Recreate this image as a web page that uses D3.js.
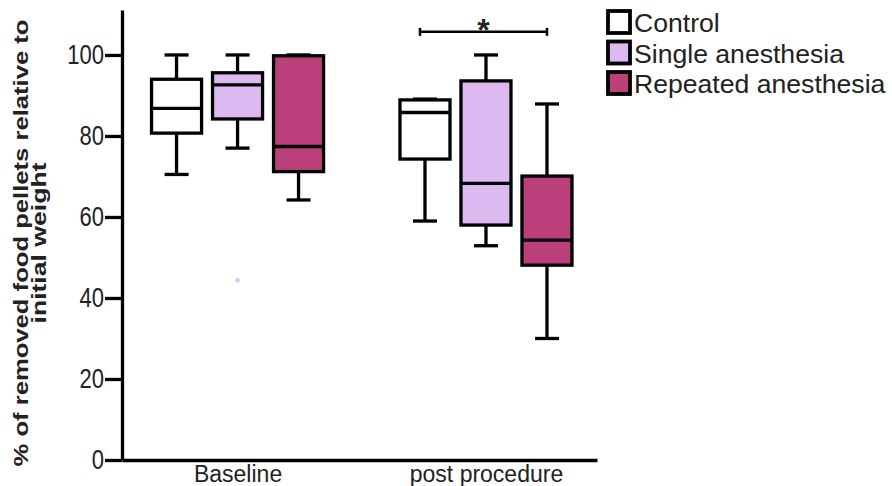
<!DOCTYPE html>
<html>
<head>
<meta charset="utf-8">
<script src="https://cdn.jsdelivr.net/npm/d3@7"></script>
<style>
  body { margin: 0; background: #fff; }
  text { font-family: "Liberation Sans", Arial, sans-serif; fill: #222; }
</style>
</head>
<body>
<div id="container"></div>
<script>
/* CONSTANTS AND GLOBALS */
const width = 892;
const height = 486;

/* DATA */
const groups = ["Baseline", "post procedure"];
const series = ["Control", "Single anesthesia", "Repeated anesthesia"];
const colors = ["#ffffff", "#ddb9f2", "#bb3f7b"];
const yTicks = [0, 20, 40, 60, 80, 100];

// box stats per group, in series order: [min, q1, median, q3, max]
const baselineStats = [
  [70.5, 80.7, 86.8, 94.0, 100],
  [77.0, 84.2, 92.6, 95.6, 100],
  [64.2, 71.2, 77.4, 99.8, 100]
];
const postStats = [
  [59.0, 74.3, 85.8, 88.9, 89.1],
  [52.9, 58.0, 68.3, 93.6, 100],
  [30.0, 48.1, 54.3, 70.1, 87.9]
];
// faint outlier point (single anesthesia, baseline)
const outliers = [{group: "Baseline", series: "Single anesthesia", value: 44.4}];
const sigLevel = 105.7;

const boxes = [];
[baselineStats, postStats].forEach((arr, gi) => {
  arr.forEach((s, si) => {
    boxes.push({group: groups[gi], series: series[si],
      min: s[0], q1: s[1], med: s[2], q3: s[3], max: s[4]});
  });
});

/* SCALES */
const y = d3.scaleLinear().domain([0, 111.1]).range([460, 10]);

const x = d3.scalePoint()
  .domain(groups)
  .range([122, 597])
  .padding(0.456)
  .align(0.51);

const inner = d3.scaleBand()
  .domain(series)
  .range([-91.5, 91.5])
  .paddingInner(0.18)
  .paddingOuter(0.09);

const color = d3.scaleOrdinal().domain(series).range(colors);

const bw = inner.bandwidth();
const capW = bw * 0.48;
const cx = d => x(d.group) + inner(d.series) + bw / 2;
const lw = 3.3;

/* SVG */
const svg = d3.select("#container")
  .append("svg")
  .attr("width", width)
  .attr("height", height);

svg.append("rect").attr("width", width).attr("height", height).attr("fill", "#fff");

// y axis
const yAxis = d3.axisLeft(y).tickValues(yTicks).tickSize(17).tickSizeOuter(0).tickPadding(1);
const gy = svg.append("g")
  .attr("transform", "translate(122,0)")
  .call(yAxis);
gy.select(".domain").attr("stroke", "#000").attr("stroke-width", lw);
gy.selectAll(".tick line").attr("stroke", "#000").attr("stroke-width", lw);
gy.selectAll(".tick text")
  .attr("font-size", 22)
  .attr("fill", "#222")
  .attr("transform", "scale(1,1.25)")
  .style("font-family", "'Liberation Sans', Arial, sans-serif");

// x axis
const xAxis = d3.axisBottom(x).tickSize(0).tickSizeOuter(0).tickPadding(6);
const gx = svg.append("g")
  .attr("transform", "translate(0,460)")
  .call(xAxis);
gx.select(".domain").attr("stroke", "#000").attr("stroke-width", lw);
gx.selectAll(".tick text")
  .attr("font-size", 23)
  .attr("fill", "#222")
  .style("font-family", "'Liberation Sans', Arial, sans-serif");

// y axis title
const yTitle = svg.append("g").attr("transform", "rotate(-90)");
yTitle.append("text")
  .attr("x", -243).attr("y", 28)
  .attr("text-anchor", "middle")
  .attr("font-size", 21).attr("font-weight", "bold")
  .attr("textLength", 447).attr("lengthAdjust", "spacingAndGlyphs")
  .text("% of removed food pellets relative to");
yTitle.append("text")
  .attr("x", -243).attr("y", 46)
  .attr("text-anchor", "middle")
  .attr("font-size", 21).attr("font-weight", "bold")
  .attr("textLength", 161).attr("lengthAdjust", "spacingAndGlyphs")
  .text("initial weight");

/* BOXES */
const bg = svg.selectAll("g.box")
  .data(boxes)
  .join("g")
  .attr("class", "box");

// whiskers
bg.append("line")
  .attr("x1", cx).attr("x2", cx)
  .attr("y1", d => y(d.max)).attr("y2", d => y(d.min))
  .attr("stroke", "#000").attr("stroke-width", lw);
bg.append("line")
  .attr("x1", d => cx(d) - capW / 2).attr("x2", d => cx(d) + capW / 2)
  .attr("y1", d => y(d.max)).attr("y2", d => y(d.max))
  .attr("stroke", "#000").attr("stroke-width", lw);
bg.append("line")
  .attr("x1", d => cx(d) - capW / 2).attr("x2", d => cx(d) + capW / 2)
  .attr("y1", d => y(d.min)).attr("y2", d => y(d.min))
  .attr("stroke", "#000").attr("stroke-width", lw);

// box
bg.append("rect")
  .attr("x", d => cx(d) - bw / 2)
  .attr("width", bw)
  .attr("y", d => y(d.q3))
  .attr("height", d => y(d.q1) - y(d.q3))
  .attr("fill", d => color(d.series))
  .attr("stroke", "#000").attr("stroke-width", lw);

// median
bg.append("line")
  .attr("x1", d => cx(d) - bw / 2).attr("x2", d => cx(d) + bw / 2)
  .attr("y1", d => y(d.med)).attr("y2", d => y(d.med))
  .attr("stroke", "#000").attr("stroke-width", lw);

// outliers
svg.selectAll("circle.outlier")
  .data(outliers)
  .join("circle")
  .attr("class", "outlier")
  .attr("cx", cx)
  .attr("cy", d => y(d.value))
  .attr("r", 2.5)
  .attr("fill", "#c9a2f0")
  .attr("opacity", 0.6);

/* SIGNIFICANCE */
const sx1 = x("post procedure") + inner("Control") + bw / 2 - 5;
const sx2 = x("post procedure") + inner("Repeated anesthesia") + bw / 2;
const sy = y(sigLevel);
svg.append("line")
  .attr("x1", sx1).attr("x2", sx2).attr("y1", sy).attr("y2", sy)
  .attr("stroke", "#000").attr("stroke-width", 2.5);
[sx1, sx2].forEach(v => {
  svg.append("line")
    .attr("x1", v).attr("x2", v).attr("y1", sy - 4).attr("y2", sy + 4)
    .attr("stroke", "#000").attr("stroke-width", 2.5);
});
svg.append("text")
  .attr("x", (sx1 + sx2) / 2)
  .attr("y", sy + 9)
  .attr("text-anchor", "middle")
  .attr("font-size", 32).attr("font-weight", "bold")
  .attr("fill", "#000")
  .text("*");

/* LEGEND */
const legend = svg.selectAll("g.legend")
  .data(series)
  .join("g")
  .attr("class", "legend")
  .attr("transform", (d, i) => `translate(608,${11 + i * 30.5})`);
legend.append("rect")
  .attr("width", 22).attr("height", 22)
  .attr("fill", d => color(d))
  .attr("stroke", "#000").attr("stroke-width", 3.8);
legend.append("text")
  .attr("x", 26).attr("y", 21)
  .attr("font-size", 26.6)
  .attr("fill", "#222")
  .text(d => d);
</script>
</body>
</html>
